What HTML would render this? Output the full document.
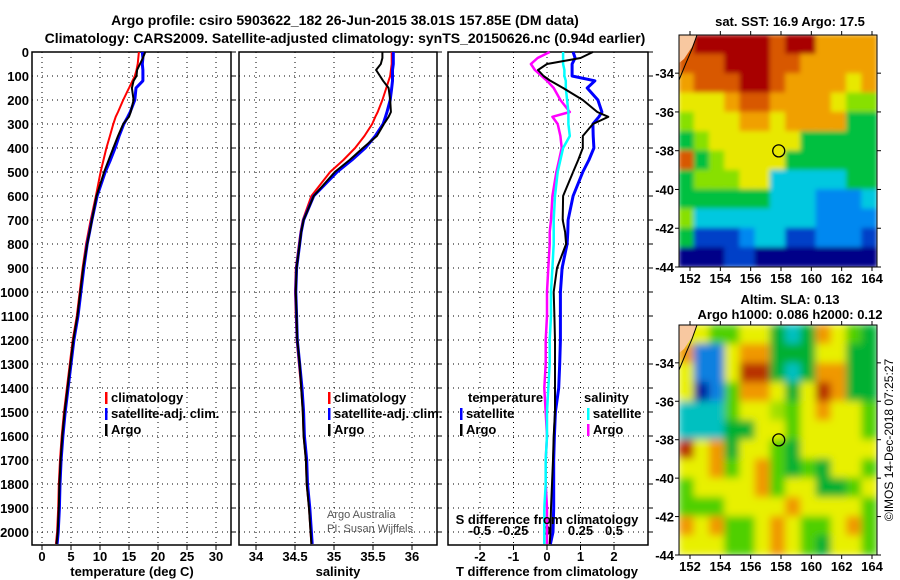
<!DOCTYPE html>
<html><head><meta charset="utf-8">
<style>
html,body{margin:0;padding:0;background:#fff;}
svg{display:block;font-family:"Liberation Sans",sans-serif;}
.b{font-weight:bold;font-size:13px;}
</style></head>
<body>
<svg id="chart" width="900" height="580" viewBox="0 0 900 580" xmlns="http://www.w3.org/2000/svg">
<defs>
<filter id="blur1" x="0" y="0" width="1" height="1"><feGaussianBlur stdDeviation="2.5"/></filter>
<filter id="blur2" x="0" y="0" width="1" height="1"><feGaussianBlur stdDeviation="4"/></filter>
<clipPath id="clipM1"><rect x="679" y="35" width="198" height="232"/></clipPath>
<clipPath id="clipM2"><rect x="679" y="325" width="198" height="230"/></clipPath>
</defs>
<text x="345" y="25" text-anchor="middle" class="b" style="font-size:14px">Argo profile: csiro 5903622_182 26-Jun-2015 38.01S 157.85E (DM data)</text>
<text x="345" y="43" text-anchor="middle" class="b" style="font-size:14px">Climatology: CARS2009. Satellite-adjusted climatology: synTS_20150626.nc (0.94d earlier)</text>
<g id="plots"></g>
</svg>
<script>
// ---------- data ----------
const depths = [0,25,50,75,100,120,150,200,250,270,300,350,400,450,500,600,700,750,800,900,1000,1100,1200,1300,1400,1500,1600,1700,1800,1900,2000,2050];
const tempClim = [16.7,16.6,16.5,16.3,16.0,15.6,15.0,14.0,13.1,12.7,12.3,11.7,11.1,10.6,10.1,9.3,8.4,8.0,7.6,7.0,6.5,6.0,5.3,4.8,4.3,3.8,3.4,3.1,2.9,2.8,2.6,2.4];
const tempSat  = [17.3,17.4,17.3,17.4,17.4,17.4,16.2,16.0,15.2,14.8,14.1,13.3,12.6,11.8,10.9,9.5,8.6,8.2,7.8,7.2,6.7,6.2,5.5,5.0,4.5,4.0,3.6,3.3,3.1,3.0,2.8,2.6];
const tempArgo = [17.8,17.4,16.9,16.4,16.3,15.8,15.5,15.8,15.3,15.0,14.0,13.1,12.3,11.5,10.7,9.4,8.6,8.2,7.8,7.1,6.6,6.1,5.4,4.9,4.4,3.9,3.5,3.2,3.0,2.9,2.7,2.5];
const salClim = [35.74,35.74,35.74,35.73,35.72,35.70,35.67,35.62,35.56,35.53,35.49,35.39,35.27,35.12,34.95,34.71,34.60,34.57,34.55,34.51,34.50,34.51,34.52,34.55,34.58,34.60,34.61,34.64,34.65,34.68,34.70,34.71];
const salSat  = [35.76,35.76,35.76,35.75,35.75,35.75,35.74,35.72,35.68,35.66,35.63,35.53,35.40,35.23,35.04,34.74,34.61,34.58,34.56,34.52,34.51,34.52,34.53,34.56,34.59,34.61,34.62,34.65,34.66,34.69,34.71,34.72];
const salArgo = [35.62,35.62,35.60,35.54,35.59,35.63,35.70,35.72,35.73,35.70,35.64,35.55,35.37,35.20,35.01,34.74,34.61,34.58,34.56,34.52,34.51,34.52,34.53,34.56,34.58,34.60,34.61,34.64,34.65,34.68,34.70,34.71];
const tDiffSat  = [0.78,0.84,0.75,0.75,0.75,1.43,1.2,1.52,1.64,1.55,1.37,1.38,1.40,1.25,1.07,0.78,0.63,0.62,0.60,0.45,0.40,0.40,0.40,0.38,0.35,0.25,0.22,0.2,0.2,0.2,0.18,0.1];
const tDiffArgo = [1.37,1.0,0.0,-0.27,-0.1,0.1,0.48,1.07,1.5,1.83,1.37,1.07,1.07,0.93,0.78,0.48,0.47,0.54,0.57,0.3,0.2,0.22,0.24,0.24,0.24,0.24,0.2,0.18,0.15,0.12,0.1,0.08];
const sDiffSat  = [0.12,0.12,0.12,0.13,0.13,0.14,0.14,0.15,0.16,0.16,0.16,0.17,0.12,0.10,0.08,0.06,0.05,0.05,0.05,0.04,0.03,0.03,0.02,0.02,0.01,0.0,0.0,-0.01,-0.01,-0.02,-0.02,-0.02];
const sDiffArgo = [0.02,-0.07,-0.12,-0.09,-0.04,0.0,0.05,0.10,0.17,0.04,0.08,0.10,0.11,0.09,0.07,0.04,0.03,0.02,0.02,0.01,0.0,0.0,-0.01,-0.01,-0.02,-0.01,0.0,-0.01,-0.01,0.0,0.0,0.0];
const depthTicks = [0,100,200,300,400,500,600,700,800,900,1000,1100,1200,1300,1400,1500,1600,1700,1800,1900,2000];
const tempTicks = [0,5,10,15,20,25,30];
const salTicks = [34,34.5,35,35.5,36];
const salTickLabels = ["34","34.5","35","35.5","36"];
const tdTicks = [-2,-1,0,1,2];
const sdTicks = [-0.5,-0.25,0,0.25,0.5];
const sdTickLabels = ["-0.5","-0.25","0","0.25","0.5"];
const lonTicks = [152,154,156,158,160,162,164];
const latTicks = [-34,-36,-38,-40,-42,-44];
const argoLon = 157.85, argoLat = -38.01;
const sstGrid = [
"ORRRRRORRoooo","OOORRROOooooo","oOOORROooooYo","YYYoOOooooYGG","GYYYooYoooogg","gGYYYYYYggggg",
"OgGYYYYgggggg","gGGGYYcccccgg","ggggggcccbbbc","Gccccccccbbbb","gBBBbccBBbbbB","NNNBBNNNNNNNN"];
const slaGrid = [
"YYGGYYgcgoYGg","obbYoogggYYgg","YbbYRRgcgoogg","YBbGooYgYRogg","cccGYYLGYoYYG","cccggYYGYYYYG",
"RYogYYGgYYYYY","YYoGYoGgGgYYG","GYYYYoGYYggGY","GGGYYYYoYYYYG","oYoGGYoYGGYoG","YYYGGYoYGgYYG"];
// ---------- helpers ----------
const NS="http://www.w3.org/2000/svg";
const root=document.getElementById('plots');
function mk(tag,attrs,parent){const e=document.createElementNS(NS,tag);for(const k in attrs)e.setAttribute(k,attrs[k]);(parent||root).appendChild(e);return e;}
const yTop=52, pxPer100=24;
function yD(d){return yTop+d*pxPer100/100;}
const yBot=545;
function lin(v0,p0,v1,p1){return v=>p0+(v-v0)*(p1-p0)/(v1-v0);}
const xT=lin(0,42,30,216);
const xS=lin(34,256,36,412);
const xTd=lin(0,547,2,614);
const xSd=lin(0,547,0.5,614);

function panel(name,x0,x1,xticks,xf,labels,showDepth){
  const g=mk('g',{});
  
  
  depthTicks.forEach(d=>{
    if(d>0){const l=mk('line',{x1:x0,x2:x1,y1:yD(d),y2:yD(d),stroke:'#000','stroke-width':1,'stroke-dasharray':'1,4'},g);
    
    }
    mk('line',{x1:x1,x2:x1+5,y1:yD(d),y2:yD(d),stroke:'#000'},g);
    if(showDepth){const t=mk('text',{x:29,y:yD(d)+5,'text-anchor':'end',class:'b'},g);t.textContent=d;
    
    }
  });
  xticks.forEach((v,i)=>{
    const px=xf(v);
    mk('line',{x1:px,x2:px,y1:yTop,y2:yBot,stroke:'#000','stroke-dasharray':'1,4'},g);
    mk('line',{x1:px,x2:px,y1:yBot,y2:yBot+5,stroke:'#000'},g);
    const t=mk('text',{x:px,y:yBot+16,'text-anchor':'middle',class:'b'},g);
    t.textContent=labels?labels[i]:v;
    
    
  });
  mk('rect',{x:x0,y:yTop,width:x1-x0,height:yBot-yTop,fill:'none',stroke:'#000','stroke-width':1.5},g);
  return g;
}
function series(name,xs,xf,color,w){
  const pts=depths.map((d,i)=>xf(xs[i]).toFixed(1)+','+yD(d).toFixed(1)).join(' ');
  const p=mk('polyline',{points:pts,fill:'none',stroke:color,'stroke-width':w,'stroke-linejoin':'round'});
  
  
}
function txt(name,x,y,s,extra){const t=mk('text',Object.assign({x:x,y:y,class:'b'},extra||{}));t.textContent=s;
  
  return t;}
function legend(name,x,y,color,label){
  const r=mk('rect',{x:x,y:y-10,width:2.5,height:12,fill:color});
  
  
  txt(name,x+6,y,label);
}
// ---------- panel 1: temperature ----------
panel('temperature-panel',32,231,tempTicks,xT,null,true);
series('temp-climatology-line',tempClim,xT,'#ff0000',2);
series('temp-satellite-line',tempSat,xT,'#0000ff',3);
series('temp-argo-line',tempArgo,xT,'#000',2);
txt('temperature-axis-title',132,576,'temperature (deg C)',{'text-anchor':'middle'});
legend('legend-climatology',105,402,'#ff0000','climatology');
legend('legend-satellite',105,418,'#0000ff','satellite-adj. clim.');
legend('legend-argo',105,434,'#000','Argo');
// ---------- panel 2: salinity ----------
panel('salinity-panel',239,437,salTicks,xS,salTickLabels,false);
series('sal-climatology-line',salClim,xS,'#ff0000',2);
series('sal-satellite-line',salSat,xS,'#0000ff',3);
series('sal-argo-line',salArgo,xS,'#000',2);
txt('salinity-axis-title',338,576,'salinity',{'text-anchor':'middle'});
legend('legend-sal-climatology',328,402,'#ff0000','climatology');
legend('legend-sal-satellite',328,418,'#0000ff','satellite-adj. clim.');
legend('legend-sal-argo',328,434,'#000','Argo');
txt('credit-argo-australia',327,518,'Argo Australia',{style:'font-weight:normal;font-size:11px;fill:#555'});
txt('credit-pi',327,532,'PI: Susan Wijffels',{style:'font-weight:normal;font-size:11px;fill:#555'});
// ---------- panel 3: differences ----------
panel('difference-panel',448,648,tdTicks,xTd,null,false);
sdTicks.forEach((v,i)=>{
  txt('s-diff-tick-label',xSd(v),535,sdTickLabels[i],{'text-anchor':'middle'});
});
series('sdiff-argo-line',sDiffArgo,xSd,'#ff00ff',2.5);
series('sdiff-satellite-line',sDiffSat,xSd,'#00ffff',2.5);
series('tdiff-satellite-line',tDiffSat,xTd,'#0000ff',3);
series('tdiff-argo-line',tDiffArgo,xTd,'#000',2);
txt('s-diff-axis-title',547,524,'S difference from climatology',{'text-anchor':'middle'});
txt('t-diff-axis-title',547,576,'T difference from climatology',{'text-anchor':'middle'});
txt('legend-temperature-heading',468,402,'temperature');
legend('legend-tdiff-satellite',460,418,'#0000ff','satellite');
legend('legend-tdiff-argo',460,434,'#000','Argo');
txt('legend-salinity-heading',584,402,'salinity');
legend('legend-sdiff-satellite',587,418,'#00ffff','satellite');
legend('legend-sdiff-argo',587,434,'#ff00ff','Argo');
// ---------- maps ----------
const pal={R:'#a80000',O:'#d85800',o:'#f0a000',Y:'#e8e800',G:'#88e000',g:'#00c040',c:'#00c8e0',b:'#0088f0',B:'#0040c8',N:'#000088',L:'#b0e800'};
const pal2={R:'#b83000',o:'#f09800',Y:'#e8f000',G:'#50d000',g:'#00b030',c:'#00c0c0',b:'#1080e0',B:'#0020a0',L:'#a0e000'};
function map(name,grid,palette,top,bot,clip,blur,title1,title2){
  const mx0=679,mx1=877;
  const lonF=lin(152,690,164,872);
  const latF=lin(-34,top+(bot-top)*(38/231),-44,bot);
  const g=mk('g',{'clip-path':'url(#'+clip+')'});
  
  
  const inner=mk('g',{filter:'url(#'+blur+')'},g);
  const rows=grid.length, cols=13;
  const cw=(mx1-mx0)/cols, ch=(bot-top)/rows;
  mk('rect',{x:mx0,y:top,width:mx1-mx0,height:bot-top,fill:palette.Y},inner);
  grid.forEach((row,r)=>{for(let c=0;c<cols;c++){const k=row[c]||'Y';
    mk('rect',{x:mx0+c*cw-0.5,y:top+r*ch-0.5,width:cw+1,height:ch+1,fill:palette[k]},inner);}});
  const land=mk('path',{d:`M679 ${top} L697 ${top} L692 ${top+12} L684 ${top+24} L679 ${top+28} Z`,fill:'#f8c8a0',stroke:'none'},g);
  
  
  mk('path',{d:`M697 ${top} L692 ${top+14} L686 ${top+28} L679 ${top+45}`,fill:'none',stroke:'#000','stroke-width':1},g);
  const dot=mk('circle',{cx:lonF(argoLon),cy:latF(argoLat),r:6,fill:'none',stroke:'#000','stroke-width':1.3},g);
  
  
  mk('rect',{x:mx0,y:top,width:mx1-mx0,height:bot-top,fill:'none',stroke:'#000'});
  lonTicks.forEach(v=>{const px=lonF(v);
    mk('line',{x1:px,x2:px,y1:bot,y2:bot+4,stroke:'#000'});mk('line',{x1:px,x2:px,y1:top,y2:top-4,stroke:'#000'});
    txt('lon-tick-label',px,bot+16,String(v),{'text-anchor':'middle'});});
  latTicks.forEach(v=>{const py=latF(v);
    mk('line',{x1:mx0-4,x2:mx0,y1:py,y2:py,stroke:'#000'});mk('line',{x1:mx1,x2:mx1+4,y1:py,y2:py,stroke:'#000'});
    txt('lat-tick-label',674,py+5,String(v),{'text-anchor':'end'});});
  txt(name+'-title',790,top-(title2?21:9),title1,{'text-anchor':'middle'});
  if(title2)txt(name+'-subtitle',790,top-6,title2,{'text-anchor':'middle'});
}
map('sst-map',sstGrid,pal,35,267,'clipM1','blur1','sat. SST: 16.9 Argo: 17.5');
map('sla-map',slaGrid,pal2,325,555,'clipM2','blur2','Altim. SLA: 0.13','Argo h1000: 0.086 h2000: 0.12');
txt('timestamp',893,440,'©IMOS 14-Dec-2018 07:25:27',{'text-anchor':'middle',transform:'rotate(-90 893 440)',style:'font-weight:normal;font-size:12px'});
</script>
</body></html>
